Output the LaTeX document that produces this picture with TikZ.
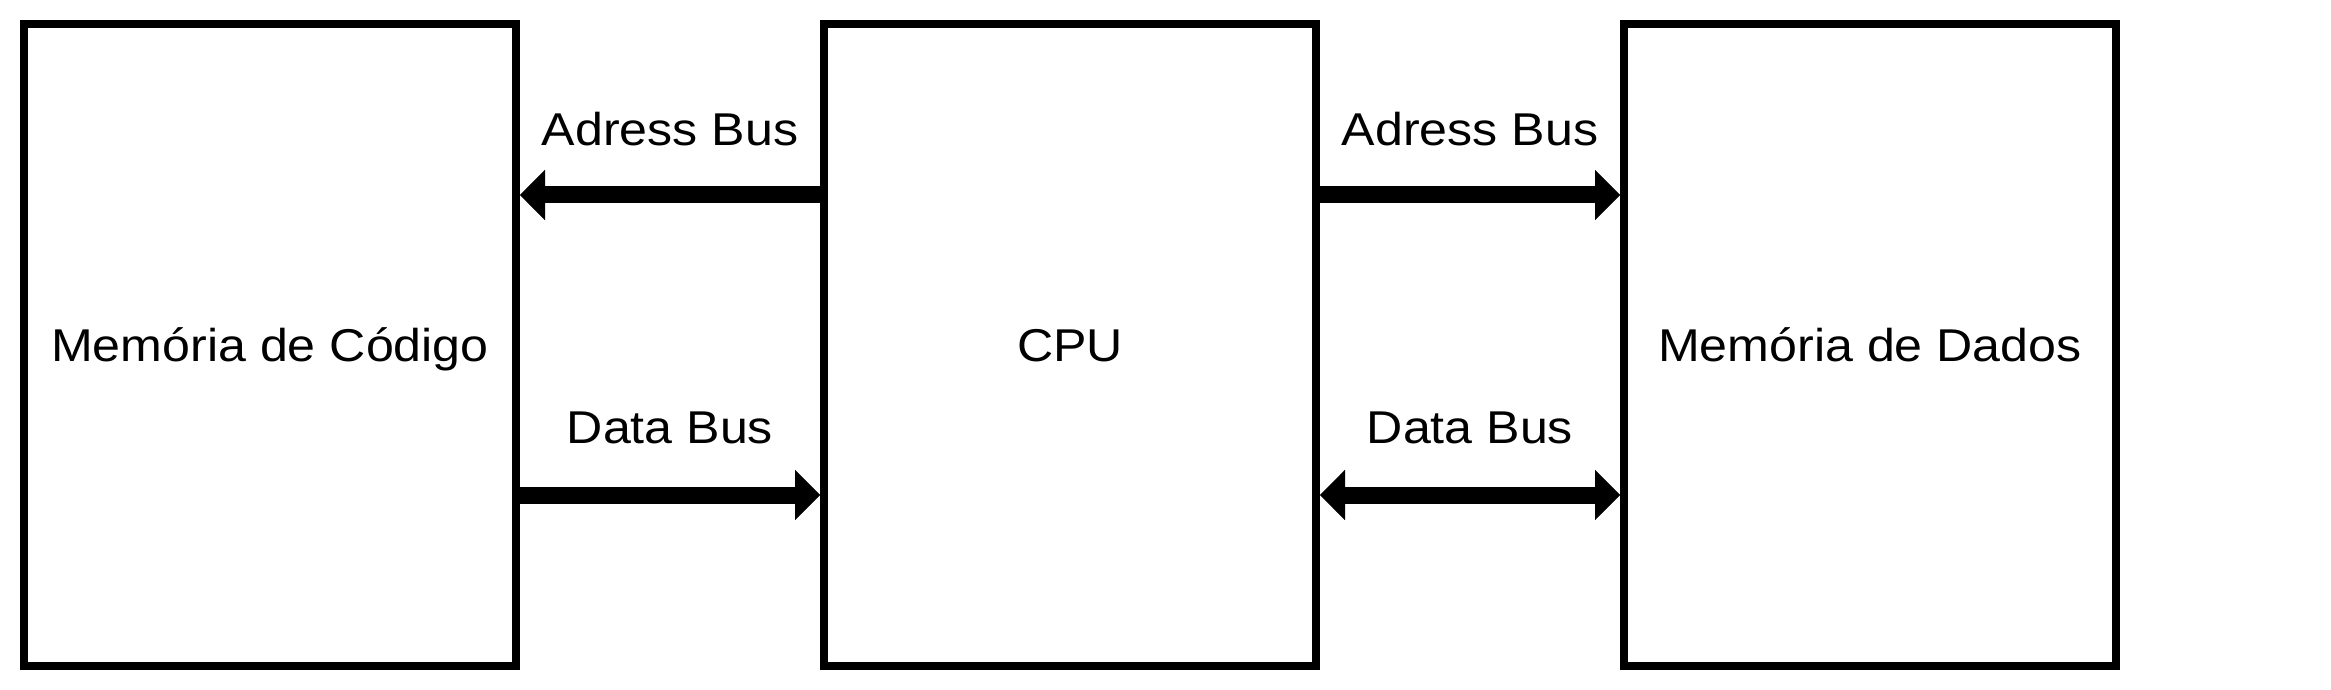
\documentclass[tikz,border=0pt]{standalone}
\usepackage{fontspec}
\setmainfont{Liberation Sans}[FakeStretch=1.09]
\usetikzlibrary{arrows.meta}
\begin{document}
\begin{tikzpicture}[x=0.5pt,y=-0.5pt,
  box/.style={draw=black,line width=4pt,minimum width=246pt,minimum height=321pt,inner sep=0pt,
    text height=18pt,text depth=2pt,font=\fontsize{23}{27}\selectfont},
  lbl/.style={anchor=base,inner sep=0pt,font=\fontsize{23}{27}\selectfont},
  tipr/.tip={Triangle[length=12.5pt,width=25pt,line width=0.1pt]},
  bus/.style={line width=8.5pt,-tipr},
  busboth/.style={line width=8.5pt,tipr-tipr}]
\useasboundingbox[fill=white] (0,0) rectangle (2331,690);
\node[box] (mc) at (270,345) {Memória de Código};
\node[box] (cpu) at (1070,345) {CPU};
\node[box] (md) at (1870,345) {Memória de Dados};
\draw[bus] ([yshift=75pt]cpu.west) -- ([yshift=75pt]mc.east);
\draw[bus] ([yshift=-75pt]mc.east) -- ([yshift=-75pt]cpu.west);
\draw[bus] ([yshift=75pt]cpu.east) -- ([yshift=75pt]md.west);
\draw[busboth] ([yshift=-75pt]cpu.east) -- ([yshift=-75pt]md.west);
\node[lbl] (a1) at (670,146) {Adress Bus};
\node[lbl] (d1) at (670,443) {Data Bus};
\node[lbl] (a2) at (1470,146) {Adress Bus};
\node[lbl] (d2) at (1470,443) {Data Bus};
\end{tikzpicture}
\end{document}
